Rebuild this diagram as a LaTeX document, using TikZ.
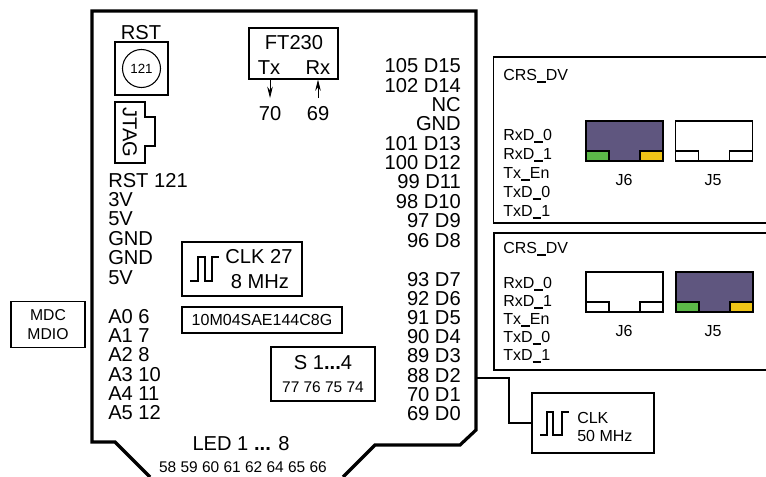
\documentclass[tikz,border=0pt]{standalone}
\usepackage{fontspec}
\setmainfont{Liberation Sans}
\usetikzlibrary{arrows.meta,positioning}
\definecolor{jackblue}{HTML}{5F567F}
\definecolor{ledgreen}{HTML}{5CB848}
\definecolor{ledyellow}{HTML}{EFC417}
\def\px{0.75pt}
\newcommand{\usc}{\rule[-2pt]{6.6pt}{1.5pt}}

\begin{document}
\begin{tikzpicture}[
  x=0.75pt, y=-0.75pt,
  box/.style={draw, line width=0.8pt, inner sep=0pt, align=center},
  big/.style={font=\fontsize{15.1}{16}\selectfont, inner sep=0pt, text height=10.8pt, text depth=0pt},
  mid/.style={font=\fontsize{12}{14}\selectfont, inner sep=0pt, text height=8.6pt, text depth=0pt},
  small/.style={font=\fontsize{11.6}{14}\selectfont, inner sep=0pt},
  pin/.style={big, anchor=west},
  dat/.style={big, anchor=east},
  sig/.style={mid, anchor=west},
  jack/.style={draw, line width=0.9pt, inner sep=0pt, minimum width=77*\px, minimum height=40*\px},
  jtab/.style={draw, line width=0.9pt, inner sep=0pt, minimum width=23*\px, minimum height=10*\px, fill=white},
  arr/.style={-{Stealth[length=8.5pt,width=4.2pt]}, line width=0.6pt},
  wire/.style={line width=0.8pt},
  wave/.style={line width=0.8pt},
]

  \useasboundingbox (0,0) rectangle (766,477);

  % Board outline
  \draw[line width=2.4pt, line join=miter]
    (150,477) -- (115,442) -- (92,442) -- (92,11) -- (476,11) -- (476,430)
    -- (460,445) -- (375,445) -- (343,477);

  % Reset and JTAG
  \node[big] (rstlbl) at (141,32) {RST};
  \node[box, minimum width=53*\px, minimum height=53*\px] (rst) at (141.5,68.5) {};
  \node[draw, circle, line width=0.8pt, inner sep=0pt, minimum size=38*\px,
        font=\fontsize{10}{11}\selectfont] (rstbtn) at (rst.center) {121};

  \draw[wire] (115,102) -- (145,102) -- (145,117) -- (155,117) -- (155,146)
    -- (145,146) -- (145,163) -- (115,163) -- cycle;
  \node[big, rotate=-90] (jtag) at (130,132.5) {JTAG};

  % FT230
  \node[box, minimum width=89*\px, minimum height=51*\px] (ft) at (293.5,53.5) {};
  \node[big] (ftlbl) at (294,42) {FT230};
  \node[big] (tx) at (269,67) {Tx};
  \node[big] (rx) at (318,67) {Rx};
  \node[big, inner ysep=7.5*\px] (p70) at (270,113) {70};
  \node[big, inner ysep=7.5*\px] (p69) at (318,113) {69};
  \draw[arr] (ft.south -| p70) -- (p70.north);
  \draw[arr] (p69.north) -- (ft.south -| p69);

  % Left pins
  \foreach \y/\t [count=\i] in {180/RST 121, 199/3V, 218/5V, 238/GND, 257/GND, 277/5V,
      316/A0 6, 335/A1 7, 354/A2 8, 374/A3 10, 393/A4 11, 412/A5 12}
    \node[pin] (lp\i) at (108,\y) {\t};

  % Right pins
  \foreach \y/\t [count=\i] in {65/105 D15, 85/102 D14, 104/NC, 123/GND, 143/101 D13,
      162/100 D12, 181/99 D11, 201/98 D10, 220/97 D9, 240/96 D8,
      279/93 D7, 298/92 D6, 317/91 D5, 336/90 D4, 355/89 D3, 375/88 D2, 394/70 D1, 413/69 D0}
    \node[dat] (rp\i) at (461,\y) {\t};

  % Onboard clock
  \node[box, minimum width=120*\px, minimum height=54*\px] (clka) at (242,269) {};
  \node[big] (clkatxt) at (259,256) {CLK 27};
  \node[big] (clkafrq) at (260,281) {8 MHz};
  \draw[wave] (190,281) -- (198,281) -- (198,257) -- (205,257) -- (205,281)
    -- (212,281) -- (212,257) -- (219,257);

  % Chip and switches
  \node[box, minimum width=160*\px, minimum height=26*\px,
        font=\fontsize{12}{14}\selectfont] (chip) at (262,320) {10M04SAE144C8G};
  \node[box, minimum width=104*\px, minimum height=54*\px] (sw) at (323,374) {};
  \node[big] (swlbl) at (323,362) {S 1\textbf{...}4};
  \node[small] (swpins) at (323,387) {77 76 75 74};

  % LEDs
  \node[big] (led) at (241,443) {LED 1 \textbf{...} 8};
  \node[small] (ledpins) at (243,467) {58 59 60 61 62 64 65 66};

  % MDC box
  \node[box, minimum width=74*\px, minimum height=46*\px,
        font=\fontsize{11.8}{15}\selectfont] (mdc) at (48,324.5) {MDC\\[-0.5pt]MDIO};

  % Upper panel
  \draw[wire] (766,57) -- (493.5,57) -- (493.5,223) -- (766,223);
  \node[sig] (crsa) at (503,75) {CRS\usc DV};
  \foreach \y/\t [count=\i] in {135/RxD\usc 0, 154/RxD\usc 1, 173/Tx\usc En, 192/TxD\usc 0, 211/TxD\usc 1}
    \node[sig] (siga\i) at (503,\y) {\t};
  \node[jack, fill=jackblue] (jsixa) at (624.5,141) {};
  \node[jtab, fill=ledgreen, anchor=south west] (grna) at (jsixa.south west) {};
  \node[jtab, fill=ledyellow, anchor=south east] (yela) at (jsixa.south east) {};
  \node[jack] (jfivea) at (714,141) {};
  \node[jtab, anchor=south west] (lfta) at (jfivea.south west) {};
  \node[jtab, anchor=south east] (rgta) at (jfivea.south east) {};
  \node[mid] at (624,180) {J6};
  \node[mid] at (713,180) {J5};

  % Lower panel
  \draw[wire] (766,233) -- (494,233) -- (494,370) -- (766,370);
  \node[sig] (crsb) at (503,248) {CRS\usc DV};
  \foreach \y/\t [count=\i] in {283/RxD\usc 0, 301/RxD\usc 1, 319/Tx\usc En, 337/TxD\usc 0, 355/TxD\usc 1}
    \node[sig] (sigb\i) at (503,\y) {\t};
  \node[jack] (jsixb) at (624.5,292) {};
  \node[jtab, anchor=south west] (lftb) at (jsixb.south west) {};
  \node[jtab, anchor=south east] (rgtb) at (jsixb.south east) {};
  \node[jack, fill=jackblue] (jfiveb) at (714.5,292) {};
  \node[jtab, fill=ledgreen, anchor=south west] (grnb) at (jfiveb.south west) {};
  \node[jtab, fill=ledyellow, anchor=south east] (yelb) at (jfiveb.south east) {};
  \node[mid] at (624,331) {J6};
  \node[mid] at (713,331) {J5};

  % External clock
  \node[box, minimum width=122*\px, minimum height=60*\px] (clkb) at (593,423) {};
  \node[sig] (clkbtxt) at (577,418) {CLK};
  \node[sig] (clkbfrq) at (577,436) {50 MHz};
  \draw[wave] (540,435) -- (547,435) -- (547,412) -- (553,412) -- (553,435)
    -- (562,435) -- (562,412) -- (569,412);

  % Link from D2 to the clock
  \coordinate (dtwo) at (477,378);
  \draw[wire] (dtwo) -- (509,378) -- (509,423) -- (clkb.west);

\end{tikzpicture}
\end{document}
